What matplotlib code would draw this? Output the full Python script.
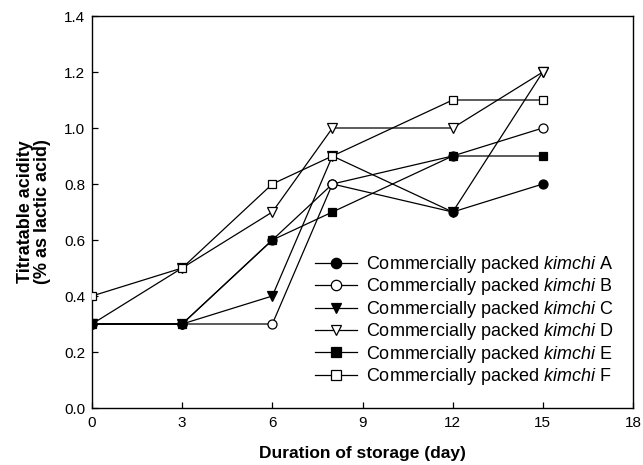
import matplotlib
matplotlib.use("Agg")
import matplotlib.pyplot as plt

plt.rcParams['font.family'] = ['Liberation Sans', 'DejaVu Sans']
plt.rcParams['mathtext.fontset'] = 'custom'
plt.rcParams['mathtext.rm'] = 'Liberation Sans'
plt.rcParams['mathtext.it'] = 'Liberation Sans:italic'

days = [0, 3, 6, 8, 12, 15]
kimchi_a = [0.3, 0.3, 0.6, 0.8, 0.7, 0.8]
kimchi_b = [0.3, 0.3, 0.3, 0.8, 0.9, 1.0]
kimchi_c = [0.3, 0.3, 0.4, 0.9, 0.7, 1.2]
kimchi_d = [0.3, 0.5, 0.7, 1.0, 1.0, 1.2]
kimchi_e = [0.3, 0.3, 0.6, 0.7, 0.9, 0.9]
kimchi_f = [0.4, 0.5, 0.8, 0.9, 1.1, 1.1]
names = ["A", "B", "C", "D", "E", "F"]

W, H = 643, 465
fig = plt.figure(figsize=(W / 100, H / 100), dpi=100)
ax = fig.add_axes([92 / W, 1 - 408 / H, (633 - 92) / W, (408 - 16) / H])

# marker, facecolor, size, zorder (draw order so that the visible marker wins)
styles = {
    "A": ("o", "black", 6.5, 4),
    "B": ("o", "white", 6.5, 5),
    "C": ("v", "black", 6.5, 3),
    "D": ("v", "white", 6.5, 6),
    "E": ("s", "black", 6, 7),
    "F": ("s", "white", 6, 8),
}
series = dict(zip(names, [kimchi_a, kimchi_b, kimchi_c, kimchi_d, kimchi_e, kimchi_f]))

handles = []
for n in names:
    m, fc, ms, z = styles[n]
    h, = ax.plot(days, series[n], color="black", lw=0.9, marker=m, ms=ms,
                 mfc=fc, mec="black", mew=0.9, zorder=z,
                 label="Commercially packed $\\it{kimchi}$ " + n)
    handles.append(h)

ax.set_xlim(0, 18)
ax.set_ylim(0, 1.4)
ax.set_xticks(range(0, 19, 3))
ax.set_yticks([0.0, 0.2, 0.4, 0.6, 0.8, 1.0, 1.2, 1.4])
ax.set_yticklabels(["0.0", "0.2", "0.4", "0.6", "0.8", "1.0", "1.2", "1.4"])
ax.tick_params(direction="in", length=4, width=0.9, labelsize=11, top=False, right=False)
ax.tick_params(axis="x", pad=6)
ax.tick_params(axis="y", pad=5)
for s in ax.spines.values():
    s.set_linewidth(1.0)

ax.set_xlabel("Duration of storage (day)", fontsize=12.5, fontweight="bold", labelpad=11)
ax.set_ylabel("Titratable acidity\n(% as lactic acid)", fontsize=13, fontweight="bold",
              labelpad=9, linespacing=1.05)

ax.legend(handles=handles, loc="upper left", bbox_to_anchor=(315 / W, 1 - 254 / H),
          bbox_transform=fig.transFigure, frameon=False, fontsize=13,
          handlelength=2.33, handletextpad=0.5, labelspacing=0.08, borderpad=0,
          borderaxespad=0, markerscale=1.15)

fig.savefig("out.png", dpi=100)
